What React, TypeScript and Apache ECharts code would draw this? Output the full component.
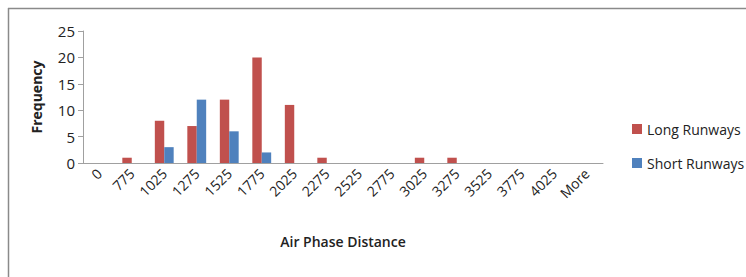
import React, { useEffect, useRef } from "react";
import * as echarts from "echarts";

const categories = ["0", "775", "1025", "1275", "1525", "1775", "2025", "2275", "2525", "2775", "3025", "3275", "3525", "3775", "4025", "More"];
const longRunways = [0, 1, 8, 7, 12, 20, 11, 1, 0, 0, 1, 1, 0, 0, 0, 0];
const shortRunways = [0, 0, 3, 12, 6, 2, 0, 0, 0, 0, 0, 0, 0, 0, 0, 0];
const yTicks = [0, 5, 10, 15, 20, 25];

const FONT = "'Open Sans', 'Liberation Sans', sans-serif";

export default function App() {
  const ref = useRef<HTMLDivElement>(null);
  useEffect(() => {
    const chart = echarts.init(ref.current!, null, { renderer: "svg" });
    chart.setOption({
      animation: false,
      backgroundColor: "#ffffff",
      grid: { left: 83, right: 143, top: 31, bottom: 114, containLabel: false },
      graphic: [
        { type: "line", shape: { x1: 8, y1: 8.5, x2: 746, y2: 8.5 }, style: { stroke: "#8a8a8a", lineWidth: 1.5 } },
        { type: "line", shape: { x1: 8.5, y1: 8, x2: 8.5, y2: 277 }, style: { stroke: "#8a8a8a", lineWidth: 1.5 } },
      ],
      legend: {
        orient: "vertical",
        left: 627,
        top: 117,
        itemWidth: 10,
        itemHeight: 10,
        itemGap: 20,
        icon: "rect",
        textStyle: { fontFamily: FONT, fontSize: 14, color: "#222" },
        data: ["Long Runways", "Short Runways"],
      },
      xAxis: {
        type: "category",
        data: categories,
        name: "Air Phase Distance",
        nameLocation: "middle",
        nameGap: 71,
        nameTextStyle: { fontFamily: FONT, fontSize: 14, fontWeight: 600, color: "#222" },
        axisLine: { lineStyle: { color: "#a0a0a0", width: 1 } },
        axisTick: { alignWithLabel: false, length: 5, lineStyle: { color: "#a0a0a0" } },
        axisLabel: { rotate: 45, margin: 8, fontFamily: FONT, fontSize: 14, color: "#222", interval: 0 },
      },
      yAxis: {
        type: "value",
        min: 0,
        max: 25,
        interval: 5,
        name: "Frequency",
        nameLocation: "middle",
        nameGap: 40,
        nameRotate: 90,
        nameTextStyle: { fontFamily: FONT, fontSize: 14, fontWeight: "bold", color: "#222" },
        axisLine: { show: true, lineStyle: { color: "#a0a0a0", width: 1 } },
        axisTick: { show: true, length: 5, lineStyle: { color: "#a0a0a0" } },
        splitLine: { show: false },
        axisLabel: {
          fontFamily: FONT,
          fontSize: 15,
          color: "#222",
          margin: 8,
          formatter: (v: number) => (yTicks.includes(v) ? String(v) : ""),
        },
      },
      series: [
        {
          name: "Long Runways",
          type: "bar",
          data: longRunways,
          barGap: "0%",
          barCategoryGap: "42%",
          itemStyle: { color: "#C0504D" },
        },
        {
          name: "Short Runways",
          type: "bar",
          data: shortRunways,
          barGap: "0%",
          barCategoryGap: "42%",
          itemStyle: { color: "#4F81BD" },
        },
      ],
    });
    return () => chart.dispose();
  }, []);
  return <div ref={ref} style={{ width: 746, height: 277, position: "absolute", left: 0, top: 0 }} />;
}
